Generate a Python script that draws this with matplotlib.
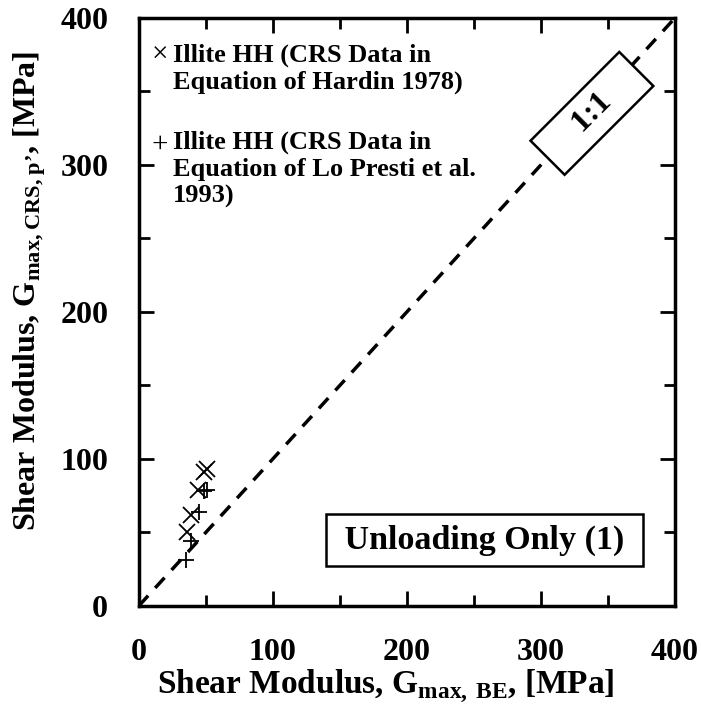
import matplotlib
matplotlib.use("Agg")
import matplotlib.pyplot as plt
from matplotlib.ticker import MultipleLocator

plt.rcParams["font.family"] = "Liberation Serif"
plt.rcParams["font.weight"] = "bold"
plt.rcParams["axes.labelweight"] = "bold"
plt.rcParams["mathtext.fontset"] = "custom"
plt.rcParams["mathtext.rm"] = "Liberation Serif:bold"
plt.rcParams["mathtext.bf"] = "Liberation Serif:bold"

# Illite HH, CRS data in equation of Hardin 1978
HARDIN_BE = [49, 51, 44, 39, 36]
HARDIN_CRS = [91, 93, 79, 62, 50]
# Illite HH, CRS data in equation of Lo Presti et al. 1993
LOPRESTI_BE = [49, 51, 45, 39, 35]
LOPRESTI_CRS = [78, 79, 64, 44, 31]

LIMIT = 400
ONE_TO_ONE = [0, LIMIT]

fig = plt.figure(figsize=(7.01, 7.12), dpi=100)
ax = fig.add_axes([0.198, 0.149, 0.765, 0.826])

ax.plot(ONE_TO_ONE, ONE_TO_ONE, color="k", lw=2.5, ls=(0, (4, 3)))
ax.plot(HARDIN_BE, HARDIN_CRS, ls="none", marker="x", ms=11, mew=1.3, color="k")
ax.plot(LOPRESTI_BE, LOPRESTI_CRS, ls="none", marker="+", ms=12, mew=1.3, color="k")

ax.set_xlim(0, LIMIT)
ax.set_ylim(0, LIMIT)
ax.xaxis.set_major_locator(MultipleLocator(100))
ax.yaxis.set_major_locator(MultipleLocator(100))
ax.xaxis.set_minor_locator(MultipleLocator(50))
ax.yaxis.set_minor_locator(MultipleLocator(50))
ax.tick_params(which="both", direction="in", top=True, right=True, width=2)
ax.tick_params(which="major", length=11, labelsize=23, pad=23)
ax.tick_params(which="minor", length=8)
ax.tick_params(axis="y", pad=22)
for s in ax.spines.values():
    s.set_linewidth(2.5)

ax.set_xlabel("Shear Modulus, G$_{\\rm max,\\,BE}$, [MPa]", fontsize=24)
ax.set_ylabel("Shear Modulus, G$_{\\rm max,CRS,p\u2019}$, [MPa]", fontsize=23)
ax.xaxis.set_label_coords(0.46, -0.105)
ax.yaxis.set_label_coords(-0.17, 0.535)

# legend drawn as text so the marker sits next to the first line
ax.text(0.039, 0.935, "\u00d7", transform=ax.transAxes, fontsize=21,
        fontweight="normal", ha="center", va="center")
ax.text(0.063, 0.957, "Illite HH (CRS Data in\nEquation of Hardin 1978)",
        transform=ax.transAxes, fontsize=19, ha="left", va="top", linespacing=1.2)
ax.text(0.039, 0.784, "+", transform=ax.transAxes, fontsize=21,
        fontweight="normal", ha="center", va="center")
ax.text(0.063, 0.808, "Illite HH (CRS Data in\nEquation of Lo Presti et al.\n1993)",
        transform=ax.transAxes, fontsize=19, ha="left", va="top", linespacing=1.2)

ax.text(338, 335, "    1:1    ", fontsize=23, rotation=45, rotation_mode="anchor",
        ha="center", va="center",
        bbox=dict(boxstyle="square,pad=0.3", fc="white", ec="k", lw=1.8))

ax.text(0.645, 0.112, " Unloading Only (1) ", transform=ax.transAxes, fontsize=24.5,
        ha="center", va="center",
        bbox=dict(boxstyle="square,pad=0.3", fc="white", ec="k", lw=1.8))

fig.savefig("out.png", dpi=100)
